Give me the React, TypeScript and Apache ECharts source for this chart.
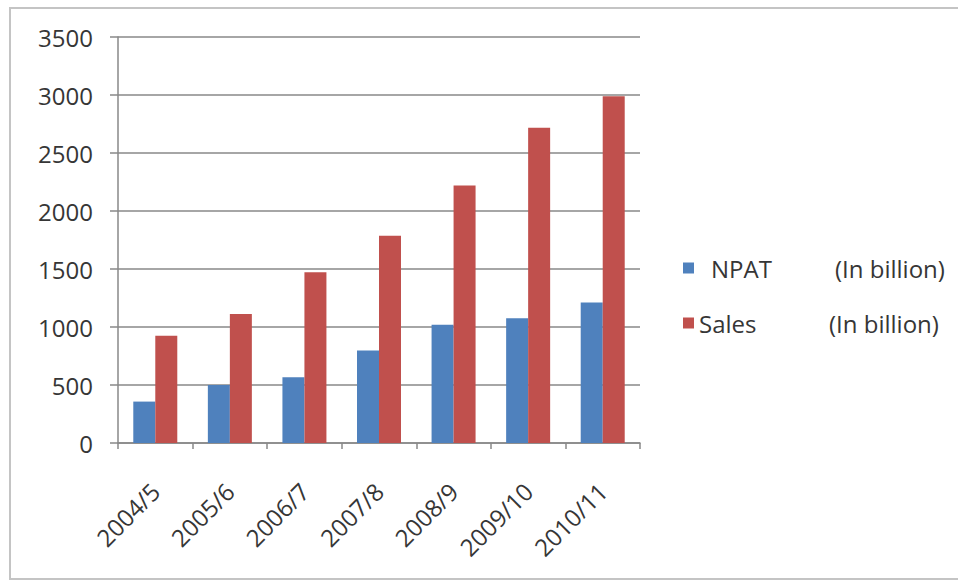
import React, { useEffect, useRef } from "react";
import * as echarts from "echarts";

const categories = ["2004/5", "2005/6", "2006/7", "2007/8", "2008/9", "2009/10", "2010/11"];
const npat = [357, 500, 567, 797, 1019, 1076, 1211];
const sales = [924, 1111, 1473, 1787, 2219, 2717, 2990];
const yTicks = { min: 0, max: 3500, interval: 500 };
const unitLabel = "(In billion)";

const FONT = "'Open Sans', 'Noto Sans', sans-serif";
const TEXT = "#363636";
const GRID_GRAY = "#888888";
const FS = 24;

export default function App() {
  const ref = useRef<HTMLDivElement>(null);

  useEffect(() => {
    if (!ref.current) return;
    const chart = echarts.init(ref.current, undefined, { renderer: "svg" });
    chart.setOption({
      animation: false,
      backgroundColor: "#ffffff",
      textStyle: { fontFamily: FONT },
      graphic: [
        {
          type: "rect",
          shape: { x: 10, y: 8, width: 980, height: 571 },
          style: { fill: "none", stroke: "#c4c4c4", lineWidth: 2 },
          silent: true,
        },
      ],
      grid: { left: 118, top: 37, right: 318, bottom: 138, containLabel: false },
      legend: {
        orient: "vertical",
        left: 683,
        top: 256,
        padding: 0,
        itemWidth: 11,
        itemHeight: 11,
        itemGap: 31,
        icon: "rect",
        data: ["NPAT", "Sales"],
        formatter: (name: string) =>
          name === "NPAT" ? `{np|NPAT}{u|${unitLabel}}` : `{sa|Sales}{u|${unitLabel}}`,
        textStyle: {
          color: TEXT,
          fontFamily: FONT,
          fontSize: FS,
          rich: {
            np: { width: 124, padding: [0, 0, 0, 12], fontSize: FS, lineHeight: 24, color: TEXT, fontFamily: FONT },
            sa: { width: 130, fontSize: FS, lineHeight: 24, color: TEXT, fontFamily: FONT },
            u: { fontSize: FS, lineHeight: 24, color: TEXT, fontFamily: FONT },
          },
        },
      },
      xAxis: {
        type: "category",
        data: categories,
        boundaryGap: true,
        axisLine: { lineStyle: { color: GRID_GRAY, width: 1.5 } },
        axisTick: { show: true, length: 6, alignWithLabel: false, lineStyle: { color: GRID_GRAY, width: 1.5 } },
        axisLabel: {
          rotate: 45,
          margin: 44,
          color: TEXT,
          fontFamily: FONT,
          fontSize: FS,
          interval: 0,
        },
      },
      yAxis: {
        type: "value",
        min: yTicks.min,
        max: yTicks.max,
        interval: yTicks.interval,
        axisLine: { show: true, lineStyle: { color: GRID_GRAY, width: 1.5 } },
        axisTick: { show: true, length: 8, lineStyle: { color: GRID_GRAY, width: 1.5 } },
        splitLine: { show: true, lineStyle: { color: GRID_GRAY, width: 1.5 } },
        axisLabel: {
          margin: 25,
          color: TEXT,
          fontFamily: FONT,
          fontSize: FS,
          formatter: (v: number) => String(v),
        },
      },
      series: [
        {
          name: "NPAT",
          type: "bar",
          data: npat,
          barWidth: 22,
          barGap: "0%",
          itemStyle: { color: "#4F81BD" },
        },
        {
          name: "Sales",
          type: "bar",
          data: sales,
          barWidth: 22,
          barGap: "0%",
          itemStyle: { color: "#C0504D" },
        },
      ],
    });
    return () => chart.dispose();
  }, []);

  return (
    <div
      ref={ref}
      style={{ position: "fixed", left: 0, top: 0, width: 958, height: 581 }}
    />
  );
}
